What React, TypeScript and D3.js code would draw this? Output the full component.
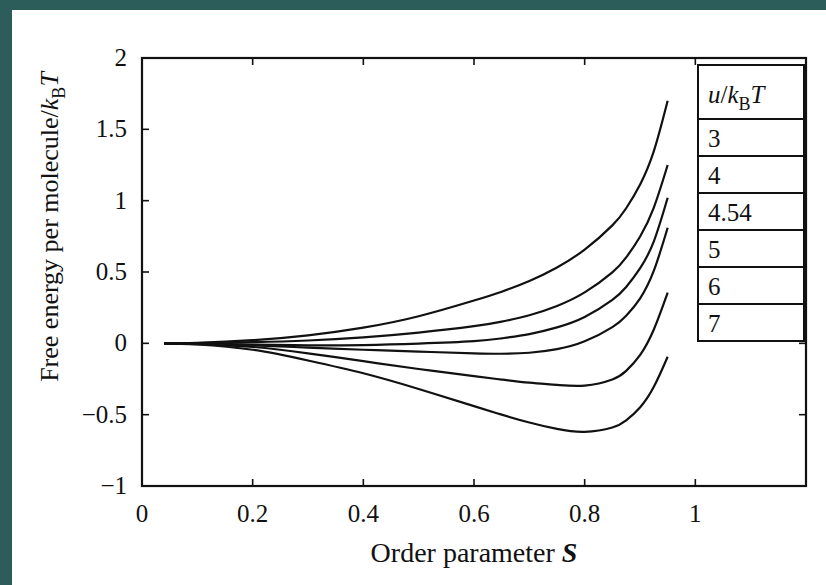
import React from 'react';
import * as d3 from 'd3';

// order parameter grid (shared by all curves)
const sGrid = [0.04, 0.1, 0.2, 0.3, 0.4, 0.5, 0.6, 0.65, 0.7, 0.75, 0.8, 0.85, 0.875, 0.9, 0.925, 0.95];

// free energy per molecule / kBT
const fU3 = [0, 0.004, 0.022, 0.056, 0.11, 0.19, 0.3, 0.362, 0.437, 0.532, 0.657, 0.827, 0.947, 1.112, 1.347, 1.7];
const fU4 = [0, 0.002, 0.008, 0.02, 0.042, 0.075, 0.12, 0.152, 0.197, 0.262, 0.357, 0.497, 0.602, 0.747, 0.952, 1.25];
const fU454 = [0, -0.002, -0.008, -0.014, -0.012, -0.002, 0.015, 0.035, 0.065, 0.112, 0.185, 0.305, 0.395, 0.525, 0.715, 1.02];
const fU5 = [0, -0.003, -0.014, -0.03, -0.045, -0.058, -0.07, -0.073, -0.066, -0.041, 0.014, 0.114, 0.194, 0.314, 0.509, 0.81];
const fU6 = [0, -0.005, -0.025, -0.07, -0.125, -0.18, -0.23, -0.254, -0.276, -0.291, -0.296, -0.253, -0.193, -0.083, 0.097, 0.355];
const fU7 = [0, -0.008, -0.045, -0.12, -0.21, -0.32, -0.44, -0.5, -0.555, -0.6, -0.62, -0.59, -0.54, -0.45, -0.305, -0.094];

const curves = [fU3, fU4, fU454, fU5, fU6, fU7];
const legendLabels = ['3', '4', '4.54', '5', '6', '7'];

const xTicks = [0, 0.2, 0.4, 0.6, 0.8, 1];
const yTicks = [-1, -0.5, 0, 0.5, 1, 1.5, 2];

const W = 826;
const H = 585;
const FONT = '"Liberation Serif", "Times New Roman", serif';

const fmt = (v: number) => (v < 0 ? '\u2212' + String(-v) : String(v));

export default function App() {
  const x = d3.scaleLinear().domain([0, 1.2]).range([142, 806]);
  const y = d3.scaleLinear().domain([-1, 2]).range([486, 58]);

  const line = d3.line<number>()
    .x((_, i) => x(sGrid[i]))
    .y(d => y(d))
    .curve(d3.curveNatural);

  const [x0, x1] = x.range();
  const [y0, y1] = y.range();
  const tick = 7;

  // legend table
  const lgLeft = 698;
  const lgRight = 804;
  const lgTop = 65;
  const headH = 54;
  const rowH = 37;

  return (
    <svg width={W} height={H} style={{ position: 'absolute', left: 0, top: 0 }} fontFamily={FONT}>
      <rect x={0} y={0} width={W} height={H} fill="#2d5d5b" />
      <rect x={12} y={10} width={W - 12} height={H - 10} fill="#ffffff" />

      {/* curves */}
      <g fill="none" stroke="#111" strokeWidth={2.2}>
        {curves.map((c, i) => (
          <path key={i} d={line(c) || ''} />
        ))}
      </g>

      {/* frame */}
      <rect x={x0} y={y1} width={x1 - x0} height={y0 - y1} fill="none" stroke="#111" strokeWidth={2.2} />

      {/* ticks on all four sides, pointing inward */}
      <g stroke="#111" strokeWidth={1.6}>
        {xTicks.filter(t => t > 0).map(t => (
          <g key={t}>
            <line x1={x(t)} x2={x(t)} y1={y0} y2={y0 - tick} />
            <line x1={x(t)} x2={x(t)} y1={y1} y2={y1 + tick} />
          </g>
        ))}
        {yTicks.filter(t => t > -1 && t < 2).map(t => (
          <g key={t}>
            <line x1={x0} x2={x0 + tick} y1={y(t)} y2={y(t)} />
            <line x1={x1} x2={x1 - tick} y1={y(t)} y2={y(t)} />
          </g>
        ))}
      </g>

      {/* tick labels */}
      <g fontSize={25} fill="#111" fontFamily={FONT}>
        {xTicks.map(t => (
          <text key={t} x={x(t)} y={y0 + 36} textAnchor="middle">{fmt(t)}</text>
        ))}
        {yTicks.map(t => (
          <text key={t} x={127} y={y(t) + 8} textAnchor="end">{fmt(t)}</text>
        ))}
      </g>

      {/* axis titles */}
      <text x={(x0 + x1) / 2} y={562} textAnchor="middle" fontSize={28} fill="#111" fontFamily={FONT}>
        Order parameter <tspan fontStyle="italic" fontWeight="bold">S</tspan>
      </text>
      <text transform={`translate(58, ${(y0 + y1) / 2 - 45}) rotate(-90)`} textAnchor="middle" fontSize={26} fill="#111" fontFamily={FONT}>
        Free energy per molecule/<tspan fontStyle="italic">k</tspan>
        <tspan fontSize={18} dy={7}>B</tspan>
        <tspan fontStyle="italic" dy={-7}>T</tspan>
      </text>

      {/* legend table */}
      <g fill="#fff" stroke="#111" strokeWidth={2}>
        <rect x={lgLeft} y={lgTop} width={lgRight - lgLeft} height={headH + rowH * legendLabels.length} />
        {legendLabels.map((_, i) => (
          <line key={i} x1={lgLeft} x2={lgRight} y1={lgTop + headH + rowH * i} y2={lgTop + headH + rowH * i} />
        ))}
      </g>
      <text x={lgLeft + 10} y={lgTop + 38} fontSize={25} fill="#111" fontFamily={FONT}>
        <tspan fontStyle="italic">u</tspan>/<tspan fontStyle="italic">k</tspan>
        <tspan fontSize={18} dy={7}>B</tspan>
        <tspan fontStyle="italic" dy={-7}>T</tspan>
      </text>
      {legendLabels.map((l, i) => (
        <text key={l} x={lgLeft + 10} y={lgTop + headH + rowH * i + 28} fontSize={25} fill="#111" fontFamily={FONT}>{l}</text>
      ))}
    </svg>
  );
}
